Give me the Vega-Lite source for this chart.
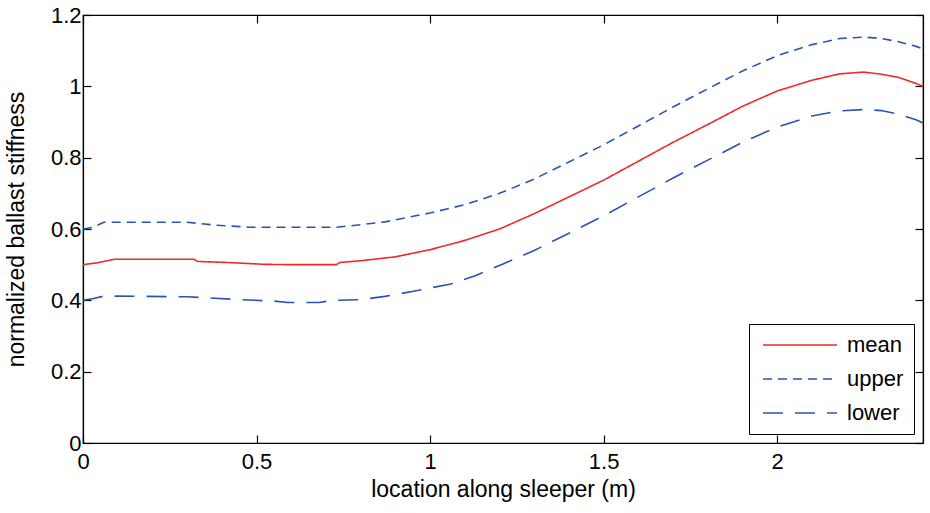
{
  "$schema": "https://vega.github.io/schema/vega-lite/v6.json",
  "width": 840,
  "height": 428,
  "autosize": "none",
  "padding": {"left": 83, "top": 15, "right": 7, "bottom": 70},
  "data": {
    "values": [
      {"x": 0.00, "v": 0.500, "s": "mean"},
      {"x": 0.04, "v": 0.505, "s": "mean"},
      {"x": 0.09, "v": 0.515, "s": "mean"},
      {"x": 0.20, "v": 0.515, "s": "mean"},
      {"x": 0.32, "v": 0.515, "s": "mean"},
      {"x": 0.33, "v": 0.509, "s": "mean"},
      {"x": 0.42, "v": 0.506, "s": "mean"},
      {"x": 0.52, "v": 0.501, "s": "mean"},
      {"x": 0.60, "v": 0.500, "s": "mean"},
      {"x": 0.73, "v": 0.500, "s": "mean"},
      {"x": 0.74, "v": 0.506, "s": "mean"},
      {"x": 0.80, "v": 0.511, "s": "mean"},
      {"x": 0.90, "v": 0.522, "s": "mean"},
      {"x": 1.00, "v": 0.542, "s": "mean"},
      {"x": 1.10, "v": 0.568, "s": "mean"},
      {"x": 1.20, "v": 0.600, "s": "mean"},
      {"x": 1.30, "v": 0.643, "s": "mean"},
      {"x": 1.40, "v": 0.690, "s": "mean"},
      {"x": 1.50, "v": 0.737, "s": "mean"},
      {"x": 1.60, "v": 0.790, "s": "mean"},
      {"x": 1.70, "v": 0.843, "s": "mean"},
      {"x": 1.80, "v": 0.893, "s": "mean"},
      {"x": 1.90, "v": 0.944, "s": "mean"},
      {"x": 2.00, "v": 0.987, "s": "mean"},
      {"x": 2.10, "v": 1.017, "s": "mean"},
      {"x": 2.18, "v": 1.035, "s": "mean"},
      {"x": 2.25, "v": 1.040, "s": "mean"},
      {"x": 2.30, "v": 1.034, "s": "mean"},
      {"x": 2.35, "v": 1.025, "s": "mean"},
      {"x": 2.40, "v": 1.008, "s": "mean"},
      {"x": 2.42, "v": 1.000, "s": "mean"},
      {"x": 0.00, "v": 0.600, "s": "upper"},
      {"x": 0.03, "v": 0.605, "s": "upper"},
      {"x": 0.06, "v": 0.619, "s": "upper"},
      {"x": 0.30, "v": 0.619, "s": "upper"},
      {"x": 0.38, "v": 0.611, "s": "upper"},
      {"x": 0.48, "v": 0.605, "s": "upper"},
      {"x": 0.73, "v": 0.605, "s": "upper"},
      {"x": 0.80, "v": 0.612, "s": "upper"},
      {"x": 0.87, "v": 0.620, "s": "upper"},
      {"x": 1.00, "v": 0.645, "s": "upper"},
      {"x": 1.10, "v": 0.668, "s": "upper"},
      {"x": 1.20, "v": 0.700, "s": "upper"},
      {"x": 1.30, "v": 0.740, "s": "upper"},
      {"x": 1.40, "v": 0.788, "s": "upper"},
      {"x": 1.50, "v": 0.836, "s": "upper"},
      {"x": 1.60, "v": 0.889, "s": "upper"},
      {"x": 1.70, "v": 0.942, "s": "upper"},
      {"x": 1.80, "v": 0.993, "s": "upper"},
      {"x": 1.90, "v": 1.043, "s": "upper"},
      {"x": 2.00, "v": 1.086, "s": "upper"},
      {"x": 2.10, "v": 1.117, "s": "upper"},
      {"x": 2.18, "v": 1.134, "s": "upper"},
      {"x": 2.25, "v": 1.138, "s": "upper"},
      {"x": 2.30, "v": 1.134, "s": "upper"},
      {"x": 2.35, "v": 1.125, "s": "upper"},
      {"x": 2.40, "v": 1.112, "s": "upper"},
      {"x": 2.42, "v": 1.105, "s": "upper"},
      {"x": 0.00, "v": 0.400, "s": "lower"},
      {"x": 0.03, "v": 0.405, "s": "lower"},
      {"x": 0.06, "v": 0.412, "s": "lower"},
      {"x": 0.30, "v": 0.410, "s": "lower"},
      {"x": 0.45, "v": 0.402, "s": "lower"},
      {"x": 0.55, "v": 0.398, "s": "lower"},
      {"x": 0.59, "v": 0.394, "s": "lower"},
      {"x": 0.68, "v": 0.394, "s": "lower"},
      {"x": 0.72, "v": 0.400, "s": "lower"},
      {"x": 0.80, "v": 0.402, "s": "lower"},
      {"x": 0.87, "v": 0.411, "s": "lower"},
      {"x": 0.96, "v": 0.427, "s": "lower"},
      {"x": 1.06, "v": 0.446, "s": "lower"},
      {"x": 1.13, "v": 0.469, "s": "lower"},
      {"x": 1.21, "v": 0.502, "s": "lower"},
      {"x": 1.30, "v": 0.540, "s": "lower"},
      {"x": 1.40, "v": 0.588, "s": "lower"},
      {"x": 1.50, "v": 0.637, "s": "lower"},
      {"x": 1.60, "v": 0.690, "s": "lower"},
      {"x": 1.70, "v": 0.743, "s": "lower"},
      {"x": 1.80, "v": 0.793, "s": "lower"},
      {"x": 1.90, "v": 0.843, "s": "lower"},
      {"x": 2.00, "v": 0.886, "s": "lower"},
      {"x": 2.10, "v": 0.917, "s": "lower"},
      {"x": 2.18, "v": 0.931, "s": "lower"},
      {"x": 2.25, "v": 0.935, "s": "lower"},
      {"x": 2.30, "v": 0.932, "s": "lower"},
      {"x": 2.35, "v": 0.922, "s": "lower"},
      {"x": 2.40, "v": 0.906, "s": "lower"},
      {"x": 2.42, "v": 0.897, "s": "lower"}
    ]
  },
  "encoding": {
    "x": {
      "field": "x",
      "type": "quantitative",
      "scale": {"domain": [0, 2.42], "nice": false, "zero": false}
    },
    "y": {
      "field": "v",
      "type": "quantitative",
      "scale": {"domain": [0, 1.2], "nice": false}
    }
  },
  "layer": [
    {
      "mark": {"type": "line", "strokeWidth": 1.6},
      "encoding": {
        "x": {
          "field": "x",
          "type": "quantitative",
          "title": "location along sleeper (m)",
          "axis": {
            "values": [0, 0.5, 1, 1.5, 2],
            "format": "~g",
            "tickSize": -8,
            "labelPadding": 16,
            "labelFlush": false,
            "titlePadding": 6
          }
        },
        "y": {
          "field": "v",
          "type": "quantitative",
          "title": "normalized ballast stiffness",
          "axis": {
            "values": [0, 0.2, 0.4, 0.6, 0.8, 1, 1.2],
            "format": "~g",
            "tickSize": -8,
            "labelPadding": 10,
            "labelFlush": false,
            "titlePadding": 22
          }
        },
        "color": {
          "field": "s",
          "type": "nominal",
          "scale": {
            "domain": ["mean", "upper", "lower"],
            "range": ["#ee2a2a", "#2656b0", "#2656b0"]
          },
          "legend": {
            "title": null,
            "orient": "none",
            "legendX": 666,
            "legendY": 309,
            "symbolType": "M-7.4,0H7.4",
            "symbolSize": 100,
            "symbolStrokeWidth": 1.5,
            "symbolOffset": 30,
            "labelOffset": 36,
            "labelFontSize": 22,
            "labelColor": "black",
            "rowPadding": 12,
            "padding": 10,
            "strokeColor": "black",
            "fillColor": "white"
          }
        },
        "strokeDash": {
          "field": "s",
          "type": "nominal",
          "scale": {
            "domain": ["mean", "upper", "lower"],
            "range": [[1, 0], [9, 6], [20, 12]]
          },
          "legend": {
            "title": null,
            "orient": "none",
            "legendX": 666,
            "legendY": 309,
            "symbolType": "M-7.4,0H7.4",
            "symbolSize": 100,
            "symbolStrokeWidth": 1.5,
            "symbolOffset": 30,
            "labelOffset": 36,
            "labelFontSize": 22,
            "labelColor": "black",
            "rowPadding": 12,
            "padding": 10,
            "strokeColor": "black",
            "fillColor": "white"
          }
        }
      }
    },
    {
      "mark": {"type": "point", "opacity": 0},
      "encoding": {
        "x": {
          "field": "x",
          "type": "quantitative",
          "axis": {
            "orient": "top",
            "values": [0, 0.5, 1, 1.5, 2],
            "labels": false,
            "title": null,
            "tickSize": -8
          }
        },
        "y": {
          "field": "v",
          "type": "quantitative",
          "axis": {
            "orient": "right",
            "values": [0, 0.2, 0.4, 0.6, 0.8, 1, 1.2],
            "labels": false,
            "title": null,
            "tickSize": -8
          }
        }
      }
    }
  ],
  "resolve": {"axis": {"x": "independent", "y": "independent"}},
  "config": {
    "font": "Liberation Sans",
    "view": {"stroke": "black", "strokeWidth": 1.2},
    "axis": {
      "grid": false,
      "domainColor": "black",
      "domainWidth": 1.2,
      "tickColor": "black",
      "tickWidth": 1.2,
      "labelColor": "black",
      "labelFontSize": 22,
      "titleColor": "black",
      "titleFontSize": 23,
      "titleFontWeight": "normal"
    }
  }
}
